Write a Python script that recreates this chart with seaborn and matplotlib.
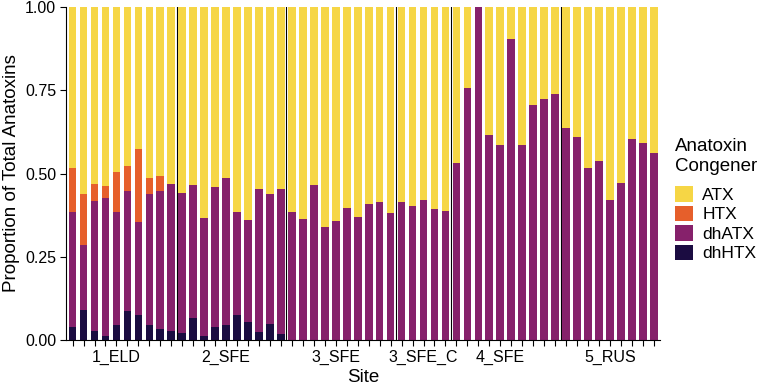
import numpy as np
import pandas as pd
import matplotlib
matplotlib.use("Agg")
import matplotlib.pyplot as plt
from matplotlib.patches import Patch
import seaborn as sns

# Sites and number of samples per site
sites = ["1_ELD", "2_SFE", "3_SFE", "3_SFE_C", "4_SFE", "5_RUS"]
n_samples = [10, 10, 10, 5, 10, 9]

# Proportions, one value per sample (bar)
dhHTX = [0.038, 0.091, 0.026, 0.013, 0.046, 0.088, 0.074, 0.046, 0.033, 0.028,
         0.022, 0.065, 0.013, 0.038, 0.045, 0.076, 0.055, 0.023, 0.047, 0.019,
         0, 0, 0, 0, 0, 0, 0, 0, 0, 0,
         0, 0, 0, 0, 0,
         0, 0, 0, 0, 0, 0, 0, 0, 0, 0,
         0, 0, 0, 0, 0, 0, 0, 0, 0]
dhATX = [0.347, 0.193, 0.391, 0.414, 0.340, 0.361, 0.281, 0.394, 0.416, 0.442,
         0.420, 0.400, 0.355, 0.421, 0.441, 0.308, 0.306, 0.431, 0.391, 0.435,
         0.385, 0.365, 0.466, 0.340, 0.357, 0.396, 0.370, 0.408, 0.414, 0.381,
         0.414, 0.402, 0.422, 0.395, 0.387,
         0.531, 0.757, 1.000, 0.617, 0.585, 0.904, 0.587, 0.705, 0.723, 0.739,
         0.638, 0.611, 0.518, 0.539, 0.422, 0.473, 0.604, 0.592, 0.563]
HTX = [0.131, 0.156, 0.053, 0.037, 0.120, 0.073, 0.218, 0.048, 0.043, 0,
       0, 0, 0, 0, 0, 0, 0, 0, 0, 0,
       0, 0, 0, 0, 0, 0, 0, 0, 0, 0,
       0, 0, 0, 0, 0,
       0, 0, 0, 0, 0, 0, 0, 0, 0, 0,
       0, 0, 0, 0, 0, 0, 0, 0, 0]
ATX = [0.484, 0.560, 0.530, 0.536, 0.494, 0.478, 0.427, 0.512, 0.508, 0.530,
       0.558, 0.535, 0.632, 0.541, 0.514, 0.616, 0.639, 0.546, 0.562, 0.546,
       0.615, 0.635, 0.534, 0.660, 0.643, 0.604, 0.630, 0.592, 0.586, 0.619,
       0.586, 0.598, 0.578, 0.605, 0.613,
       0.469, 0.243, 0.000, 0.383, 0.415, 0.096, 0.413, 0.295, 0.277, 0.261,
       0.362, 0.389, 0.482, 0.461, 0.578, 0.527, 0.396, 0.408, 0.437]

congeners = ["ATX", "HTX", "dhATX", "dhHTX"]
colors = {"ATX": "#F6D645", "HTX": "#E65F2B", "dhATX": "#86216B", "dhHTX": "#1B0C41"}

site_col = [s for s, n in zip(sites, n_samples) for _ in range(n)]
df = pd.DataFrame({"sample": np.arange(len(site_col)), "site": site_col,
                   "dhHTX": dhHTX, "dhATX": dhATX, "HTX": HTX, "ATX": ATX})

# cumulative tops, stacked bottom -> top: dhHTX, dhATX, HTX, ATX
stack = ["dhHTX", "dhATX", "HTX", "ATX"]
cum = df[stack].cumsum(axis=1)

plt.rcParams["font.family"] = ["Liberation Sans", "DejaVu Sans"]
fig = plt.figure(figsize=(7.64, 3.9), dpi=100)
ax = fig.add_axes([0.0864, 0.128, 0.778, 0.854])

for name in reversed(stack):
    sns.barplot(x=df["sample"], y=cum[name], color=colors[name], width=0.7,
                saturation=1, ax=ax, order=df["sample"].tolist())

bounds = np.cumsum(n_samples)[:-1] - 0.5
for b in bounds:
    ax.axvline(b, color="black", lw=0.8, zorder=0.5)

# label only the middle sample of each site
labels = [""] * len(df)
start = 0
for s, n in zip(sites, n_samples):
    labels[start + (n - 1) // 2 if n % 2 else start + n // 2 - 1] = s
    start += n
ax.set_xticks(range(len(df)))
ax.set_xticklabels(labels, fontsize=11.5, color="black")
ax.set_xlim(-0.6, len(df) - 0.4)
ax.set_ylim(0, 1)
ax.set_yticks([0, 0.25, 0.5, 0.75, 1.0])
ax.set_yticklabels(["0.00", "0.25", "0.50", "0.75", "1.00"], fontsize=11.5, color="black")
ax.tick_params(axis="both", length=4, width=0.8, color="black", pad=3)
ax.set_xlabel("Site", fontsize=13.5, labelpad=3)
ax.set_ylabel("Proportion of Total Anatoxins", fontsize=13.5, labelpad=4)
for sp in ["top", "right"]:
    ax.spines[sp].set_visible(False)
for sp in ["left", "bottom"]:
    ax.spines[sp].set_linewidth(0.8)
    ax.spines[sp].set_color("black")

handles = [Patch(facecolor=colors[c], edgecolor="none") for c in congeners]
leg = fig.legend(handles, congeners, title="Anatoxin\nCongener", loc="upper left",
                 bbox_to_anchor=(0.883, 0.645), frameon=False, fontsize=12.5,
                 title_fontsize=13.5, handlelength=1.05, handleheight=1.0,
                 labelspacing=0.16, handletextpad=0.55, borderaxespad=0,
                 borderpad=0)
leg._legend_box.align = "left"
leg._legend_box.sep = 8

fig.savefig("out.png", dpi=100)
